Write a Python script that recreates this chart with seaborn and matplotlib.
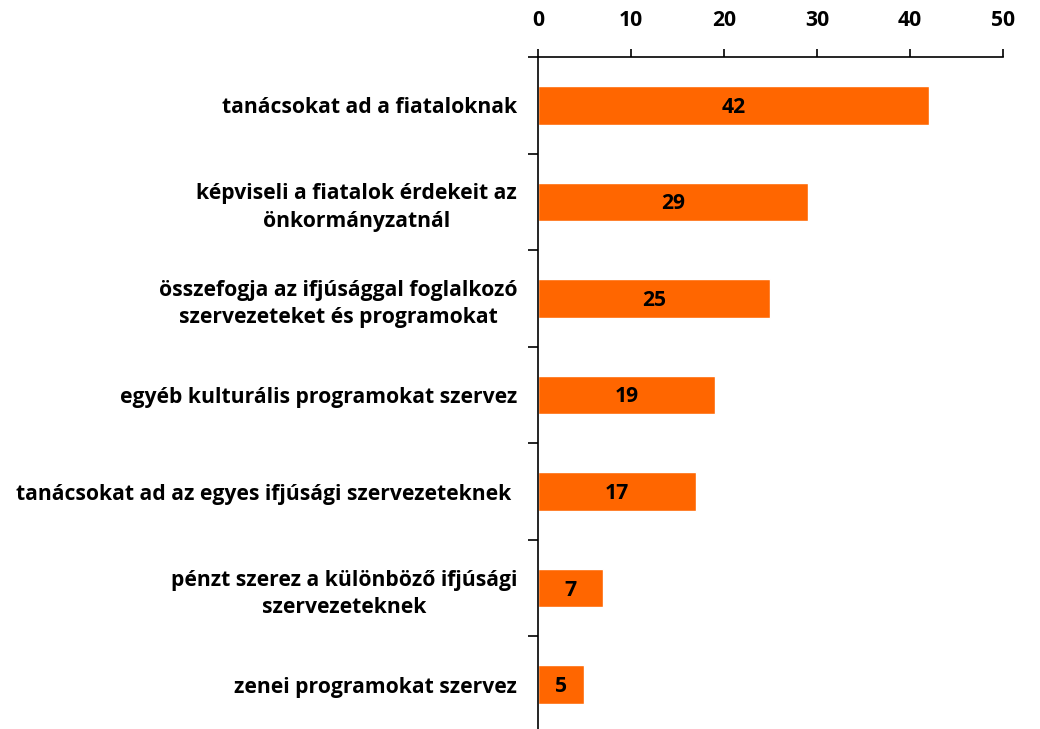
import numpy as np
import pandas as pd
import matplotlib
matplotlib.use("Agg")
import matplotlib.pyplot as plt
import seaborn as sns

categories = [
    "tanácsokat ad a fiataloknak",
    "képviseli a fiatalok érdekeit az\nönkormányzatnál",
    "összefogja az ifjúsággal foglalkozó\nszervezeteket és programokat",
    "egyéb kulturális programokat szervez",
    "tanácsokat ad az egyes ifjúsági szervezeteknek ",
    "pénzt szerez a különböző ifjúsági\nszervezeteknek",
    "zenei programokat szervez",
]
values = [42, 29, 25, 19, 17, 7, 5]
x_ticks = [0, 10, 20, 30, 40, 50]

sns.set_style("white")
plt.rcParams["font.family"] = ["Open Sans", "DejaVu Sans"]
plt.rcParams["font.weight"] = "bold"
plt.rcParams["text.color"] = "black"
plt.rcParams["xtick.color"] = "black"
plt.rcParams["ytick.color"] = "black"

FS = 15.2

df = pd.DataFrame({"category": categories, "value": values})

fig = plt.figure(figsize=(10.4, 7.29), dpi=100)
ax = fig.add_axes([0.5173, -0.0055, 0.4471, 0.9273])

sns.barplot(data=df, x="value", y="category", orient="h", color="#FF6600",
            width=0.4, saturation=1, ax=ax)

for i, v in enumerate(values):
    ax.text(v / 2, i + 0.02, f"{v}", ha="center", va="center", fontsize=FS,
            fontweight="bold", color="black")

ax.set_xlim(0, 50)
ax.set_ylim(6.5, -0.5)
ax.xaxis.tick_top()
ax.set_xticks(x_ticks)
ax.set_xticklabels([str(t) for t in x_ticks], fontsize=FS, fontweight="bold")
ax.tick_params(axis="x", which="major", direction="out", length=6, width=1.2,
               color="black", labelcolor="black", pad=13, top=True, bottom=False)

ax.set_yticks(range(len(categories)))
ax.set_yticklabels(categories, fontsize=FS, fontweight="bold",
                   multialignment="center", linespacing=1.4)
ax.tick_params(axis="y", which="major", length=0, pad=15, labelcolor="black")
ax.set_yticks(np.arange(-0.5, len(categories), 1.0), minor=True)
ax.tick_params(axis="y", which="minor", direction="out", length=7, width=1.2,
               color="black", left=True)

ax.set_xlabel("")
ax.set_ylabel("")
for side in ["right", "bottom"]:
    ax.spines[side].set_visible(False)
for side in ["left", "top"]:
    ax.spines[side].set_color("black")
    ax.spines[side].set_linewidth(1.2)

fig.savefig("out.png", dpi=100)
